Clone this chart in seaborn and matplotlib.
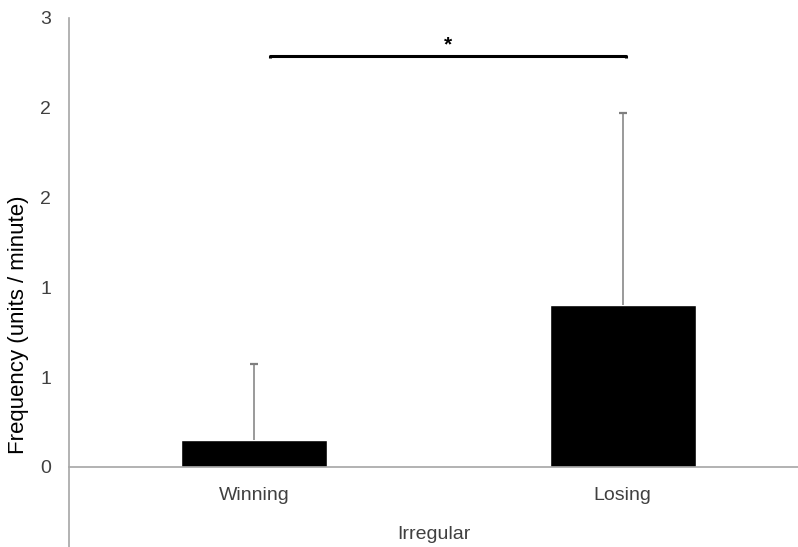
import seaborn as sns
import matplotlib.pyplot as plt
import pandas as pd

groups = ["Winning", "Losing"]
means = [0.148, 0.90]
sds = [0.422, 1.07]
ytick_vals = [0, 0.5, 1.0, 1.5, 2.0, 2.5]
ytick_labels = ["0", "1", "1", "2", "2", "3"]
sig_y = 2.29
sig_x = [0.043, 1.01]

sns.set_style("white")
plt.rcParams['font.family'] = ['Liberation Sans', 'DejaVu Sans']

df = pd.DataFrame({"group": groups, "mean": means})

fig = plt.figure(figsize=(7.98, 5.47), dpi=100)
ax = fig.add_axes([69 / 798, 0, 1 - 69 / 798, 1 - 18 / 547])

sns.barplot(ax=ax, data=df, x="group", y="mean", color="black",
            width=0.396, errorbar=None, saturation=1)
eb = ax.errorbar(range(len(groups)), means, yerr=[[0] * len(sds), sds], fmt="none",
                 ecolor="#7f7f7f", elinewidth=1.1, capsize=3, capthick=1.6)
# only the upper whisker gets a cap
eb[1][0].set_visible(False)

# significance bracket
ax.plot([sig_x[0], sig_x[0], sig_x[1], sig_x[1]],
        [sig_y - 0.015, sig_y, sig_y, sig_y - 0.015], color="black", lw=2.2,
        solid_capstyle="butt")
ax.text(sum(sig_x) / 2, sig_y + 0.005, "*", ha="center", va="bottom",
        fontsize=15, fontweight="bold", color="black")

ax.set_xlim(-0.502, 1.476)
ax.set_ylim(-0.447, 2.5)
ax.set_yticks(ytick_vals)
ax.set_yticklabels(ytick_labels)

for s in ["top", "right"]:
    ax.spines[s].set_visible(False)
ax.spines["bottom"].set_position(("data", 0))
ax.spines["left"].set_color("#a6a6a6")
ax.spines["bottom"].set_color("#a6a6a6")
ax.spines["left"].set_linewidth(1.2)
ax.spines["bottom"].set_linewidth(1.2)

ax.tick_params(axis="both", length=0, labelsize=14, labelcolor="#404040")
ax.tick_params(axis="y", pad=13)
ax.tick_params(axis="x", pad=14.5)

ax.set_xlabel("Irregular", fontsize=14, color="#404040", labelpad=16)
ax.set_ylabel("Frequency (units / minute)", fontsize=16, color="black")
ax.yaxis.set_label_coords(-0.055, 0.42)

plt.savefig("out.png", dpi=100)
